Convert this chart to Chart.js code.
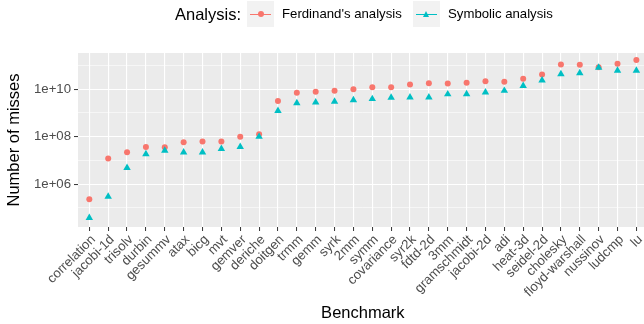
<!DOCTYPE html>
<html>
<head>
<meta charset="utf-8">
<script src="https://cdn.jsdelivr.net/npm/chart.js@4.4.0/dist/chart.umd.min.js"></script>
<style>
  html, body { margin: 0; padding: 0; background: #fff; overflow: hidden; }
  #wrap { position: relative; width: 644px; height: 324px; overflow: hidden; }
  #chart { position: absolute; left: 0; top: 0; }
  .lg { position: absolute; top: 0; height: 28px; line-height: 28px; white-space: nowrap;
        font-family: "Liberation Sans", Arial, sans-serif; color: #000; }
  .lg-title { font-size: 16.5px; }
  .lg-text { font-size: 13.2px; }
  .lg-key { position: absolute; top: 1px; width: 27px; height: 26px; background: #F2F2F2; }
  .lg-line { position: absolute; left: 3px; top: 12.5px; width: 21px; height: 1.5px; }
  .lg-dot { position: absolute; left: 10.5px; top: 10px; width: 6px; height: 6px; border-radius: 50%; background: #F8766D; }
  .lg-tri { position: absolute; left: 9.7px; top: 9.5px; width: 0; height: 0;
            border-left: 3.8px solid transparent; border-right: 3.8px solid transparent;
            border-bottom: 6.5px solid #00BFC4; }
</style>
</head>
<body>
<div id="wrap">
  <canvas id="chart" width="652" height="324"></canvas>
  <div class="lg lg-title" style="left:175px">Analysis:</div>
  <div class="lg-key" style="left:247px"><div class="lg-line" style="background:#F8766D"></div><div class="lg-dot"></div></div>
  <div class="lg lg-text" style="left:282px">Ferdinand's analysis</div>
  <div class="lg-key" style="left:413px"><div class="lg-line" style="background:#00BFC4"></div><div class="lg-tri"></div></div>
  <div class="lg lg-text" style="left:448px">Symbolic analysis</div>
</div>
<script>
// Data
const benchmarks = ['correlation', 'jacobi-1d', 'trisolv', 'durbin', 'gesummv', 'atax', 'bicg', 'mvt',
  'gemver', 'deriche', 'doitgen', 'trmm', 'gemm', 'syrk', '2mm', 'symm', 'covariance', 'syr2k',
  'fdtd-2d', '3mm', 'gramschmidt', 'jacobi-2d', 'adi', 'heat-3d', 'seidel-2d', 'cholesky',
  'floyd-warshall', 'nussinov', 'ludcmp', 'lu'];

const ferdinand = [2.3e5, 1.2e7, 2.2e7, 3.7e7, 3.6e7, 5.8e7, 6.3e7, 6.3e7,
  1.0e8, 1.26e8, 3.2e9, 7.2e9, 7.9e9, 8.7e9, 1.0e10, 1.23e10, 1.23e10, 1.6e10,
  1.8e10, 1.75e10, 1.9e10, 2.2e10, 2.1e10, 2.8e10, 4.2e10, 1.1e11,
  1.07e11, 8.5e10, 1.2e11, 1.7e11];

const symbolic = [3.8e4, 3.0e5, 4.9e6, 1.86e7, 2.6e7, 2.2e7, 2.2e7, 3.1e7,
  3.7e7, 1.0e8, 1.23e9, 2.6e9, 2.8e9, 3.0e9, 3.5e9, 3.9e9, 4.5e9, 4.6e9,
  4.6e9, 6.2e9, 6.3e9, 7.5e9, 8.7e9, 1.4e10, 2.4e10, 4.4e10,
  4.8e10, 8.3e10, 6.2e10, 6.2e10];

const yTicks = [1e5, 1e6, 1e7, 1e8, 1e9, 1e10, 1e11];
const yTickLabels = ['', '1e+06', '', '1e+08', '', '1e+10', ''];

Chart.defaults.font.family = '"Liberation Sans", Arial, sans-serif';

// gray ggplot panel
const panelBg = {
  id: 'panelBg',
  beforeDraw(chart) {
    const { ctx, chartArea: a } = chart;
    ctx.save();
    ctx.fillStyle = '#EBEBEB';
    ctx.fillRect(a.left, a.top, a.right - a.left, a.bottom - a.top);
    ctx.restore();
  }
};

const toPoints = arr => arr.map((v, i) => ({ x: i, y: v }));

new Chart(document.getElementById('chart'), {
  type: 'scatter',
  data: {
    datasets: [
      {
        label: "Ferdinand's analysis",
        data: toPoints(ferdinand),
        backgroundColor: '#F8766D',
        borderWidth: 0,
        pointStyle: 'circle',
        pointRadius: 3,
        pointHoverRadius: 3,
        order: 2
      },
      {
        label: 'Symbolic analysis',
        data: toPoints(symbolic),
        backgroundColor: '#00BFC4',
        borderWidth: 0,
        pointStyle: 'triangle',
        pointRadius: 4.3,
        pointHoverRadius: 4.3,
        order: 1
      }
    ]
  },
  options: {
    responsive: false,
    animation: false,
    layout: { padding: { top: 53, right: 2, bottom: 0, left: 0 } },
    plugins: { legend: { display: false }, tooltip: { enabled: false } },
    scales: {
      x: {
        type: 'linear',
        min: -0.6,
        max: 29.6,
        afterBuildTicks: s => { s.ticks = benchmarks.map((_, i) => ({ value: i })); },
        afterFit: s => { s.height = 97; },
        border: { display: false },
        grid: { color: '#fff', lineWidth: 1.1, tickColor: '#333', tickLength: 4, tickWidth: 1 },
        ticks: {
          autoSkip: false,
          minRotation: 45,
          maxRotation: 45,
          padding: 1,
          labelOffset: 4,
          color: '#4D4D4D',
          font: { size: 13.2 },
          callback: v => benchmarks[v]
        },
        title: {
          display: true,
          text: 'Benchmark',
          color: '#000',
          font: { size: 16.5 },
          padding: { top: 0, bottom: 1 }
        }
      },
      y: {
        type: 'logarithmic',
        min: Math.pow(10, 4.19),
        max: Math.pow(10, 11.53),
        afterBuildTicks: s => { s.ticks = yTicks.map(v => ({ value: v })); },
        afterFit: s => { s.width = 78; },
        border: { display: false },
        grid: {
          color: '#fff',
          lineWidth: c => (yTickLabels[c.index] ? 1.1 : 0.55),
          tickColor: c => (yTickLabels[c.index] ? '#333' : 'rgba(0,0,0,0)'),
          tickLength: 4,
          tickWidth: 1
        },
        ticks: {
          autoSkip: false,
          padding: 3,
          color: '#4D4D4D',
          font: { size: 13.2 },
          callback: (v, i) => yTickLabels[i]
        },
        title: {
          display: true,
          text: 'Number of misses',
          color: '#000',
          font: { size: 16.5 },
          padding: { top: 5, bottom: 0 }
        }
      }
    }
  },
  plugins: [panelBg]
});
</script>
</body>
</html>
